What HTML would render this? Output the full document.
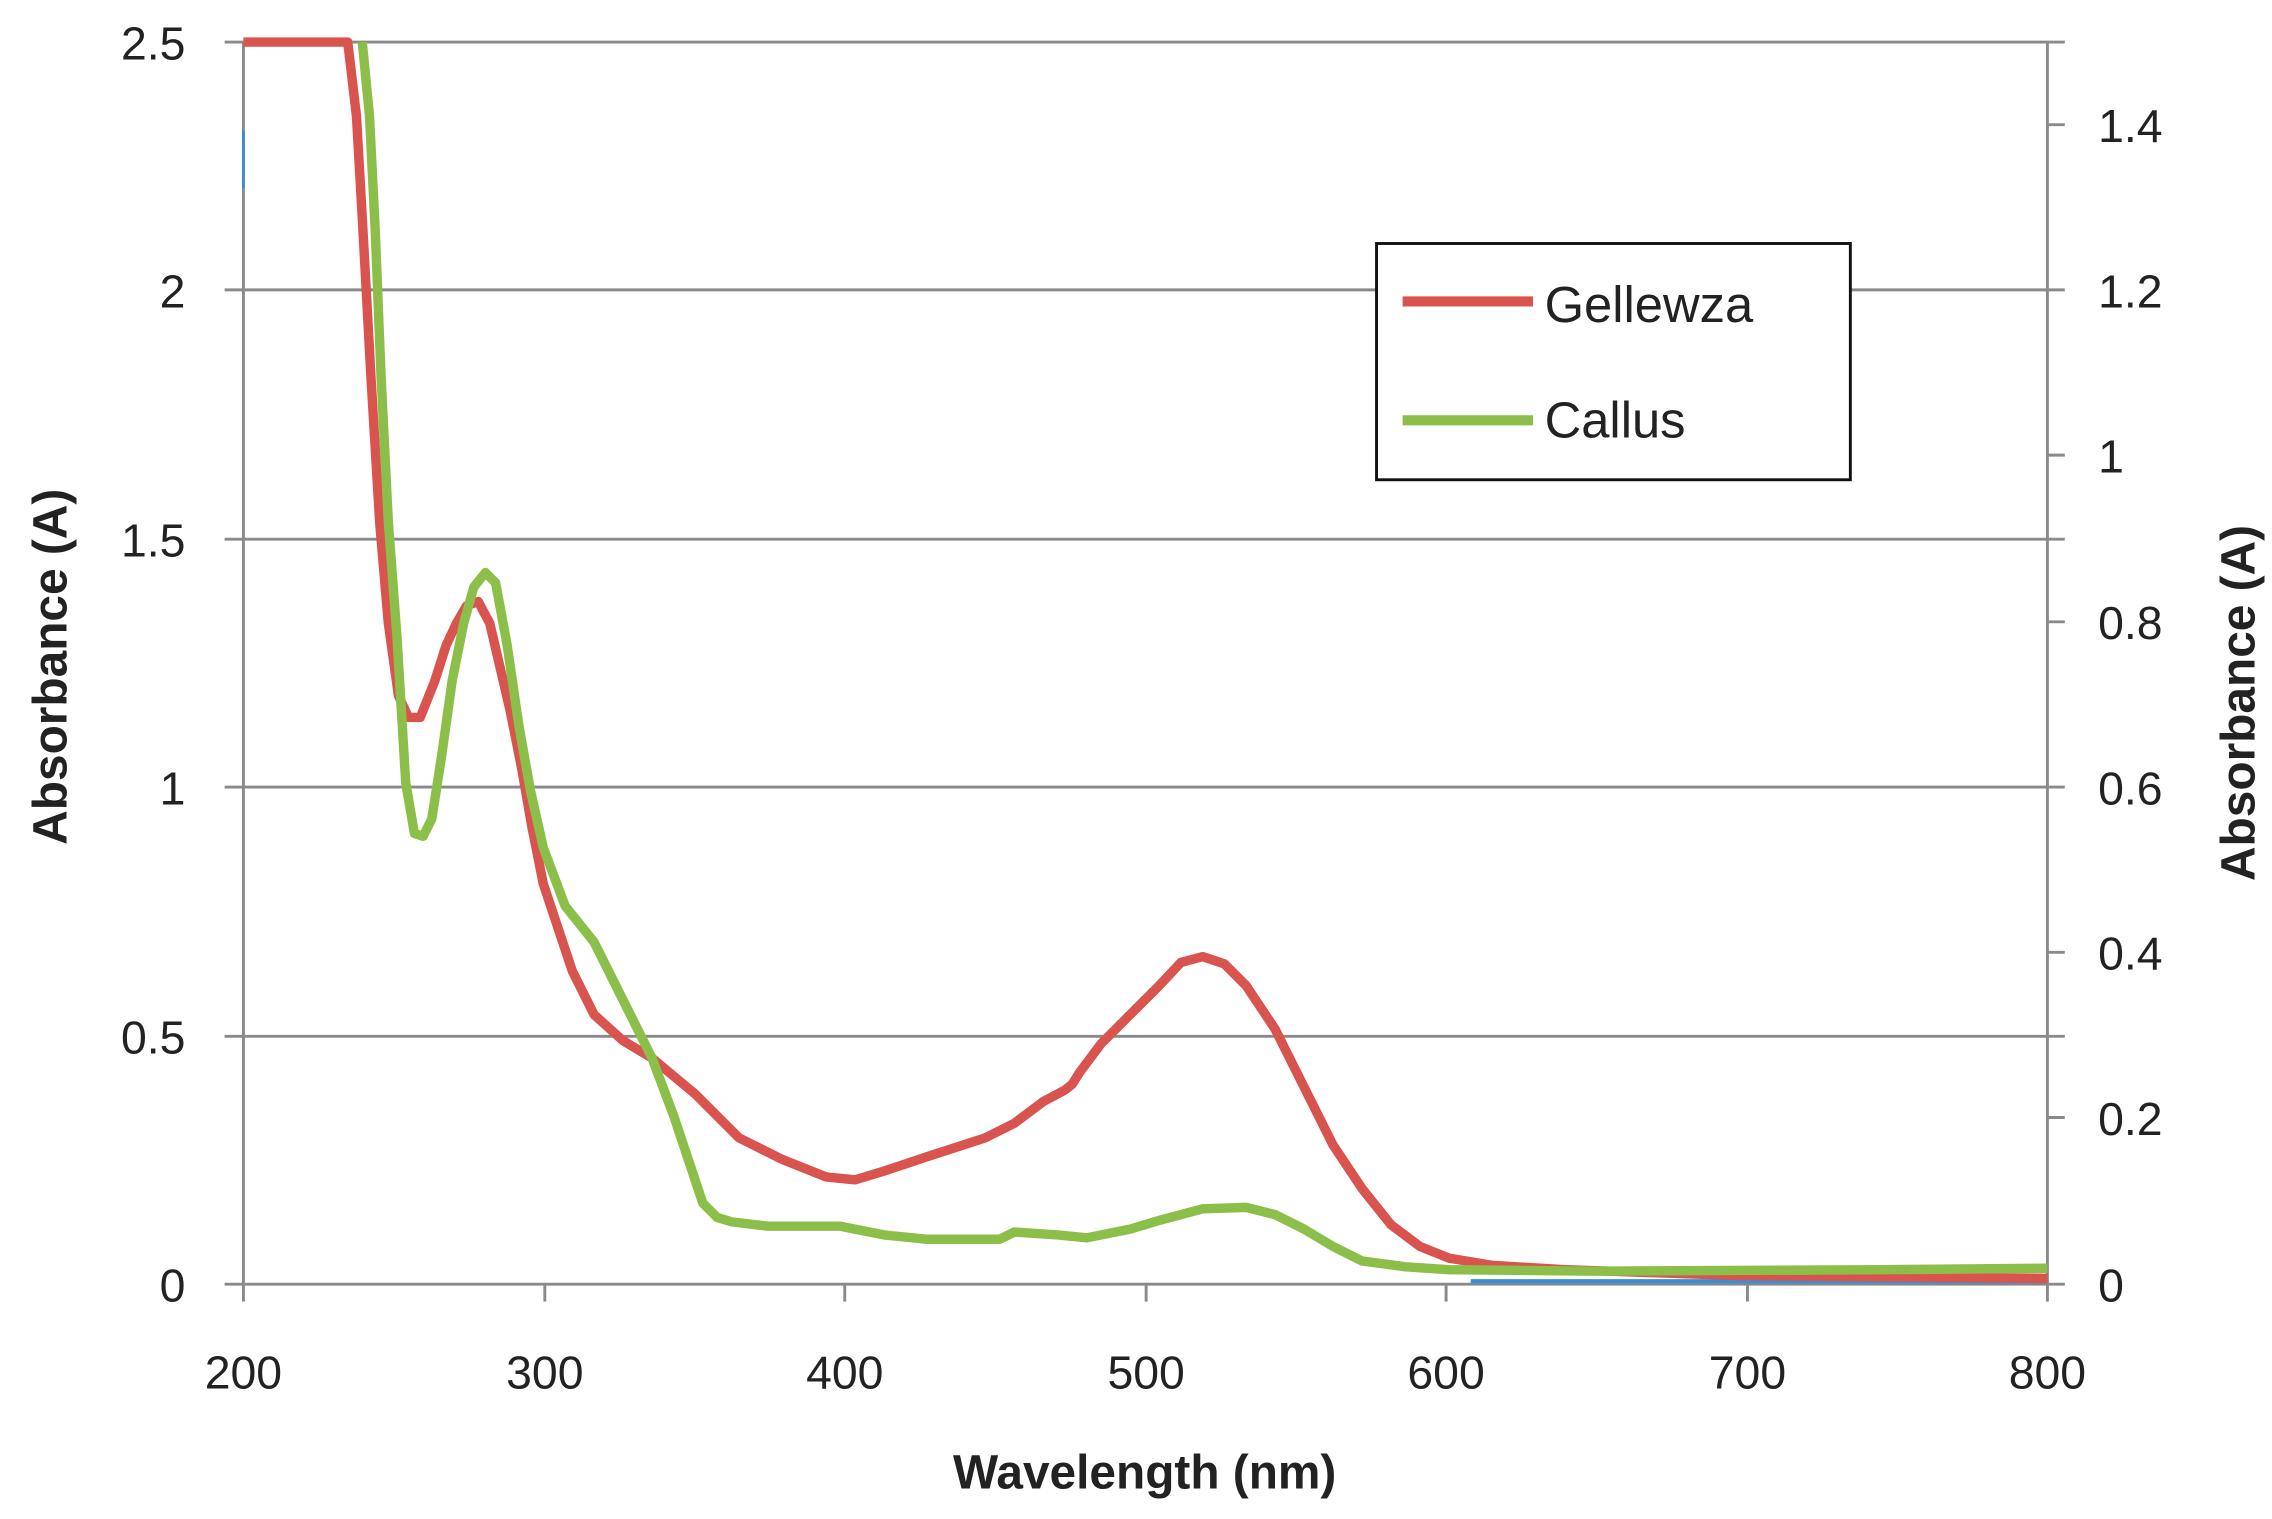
<!DOCTYPE html>
<html><head><meta charset="utf-8"><style>
html,body{margin:0;padding:0;background:#fff;}
svg{display:block;}
text{font-family:"Liberation Sans",sans-serif;fill:#222;}
</style></head><body>
<svg width="2272" height="1519" viewBox="0 0 1568 1048" preserveAspectRatio="none" xmlns="http://www.w3.org/2000/svg">
<rect width="1568" height="1048" fill="#fff"/>
<g stroke="#8a8a8a" stroke-width="2">
<line x1="155" y1="29" x2="1425" y2="29"/>
<line x1="155" y1="200" x2="1425" y2="200"/>
<line x1="155" y1="372" x2="1425" y2="372"/>
<line x1="155" y1="543" x2="1425" y2="543"/>
<line x1="155" y1="715" x2="1425" y2="715"/>
<line x1="155" y1="886" x2="1425" y2="886"/>
<line x1="168" y1="29" x2="168" y2="886"/>
<line x1="1413" y1="29" x2="1413" y2="886"/>
<line x1="1413" y1="86" x2="1425" y2="86"/>
<line x1="1413" y1="314" x2="1425" y2="314"/>
<line x1="1413" y1="429" x2="1425" y2="429"/>
<line x1="1413" y1="657" x2="1425" y2="657"/>
<line x1="1413" y1="771" x2="1425" y2="771"/>
<line x1="168" y1="886" x2="168" y2="898"/><line x1="376" y1="886" x2="376" y2="898"/><line x1="583" y1="886" x2="583" y2="898"/><line x1="791" y1="886" x2="791" y2="898"/><line x1="998" y1="886" x2="998" y2="898"/><line x1="1206" y1="886" x2="1206" y2="898"/><line x1="1413" y1="886" x2="1413" y2="898"/>
</g>
<line x1="1015" y1="884" x2="1413" y2="884" stroke="#3b8fd0" stroke-width="3"/>
<line x1="168" y1="90" x2="168" y2="130" stroke="#3b8fd0" stroke-width="2"/>
<polyline fill="none" stroke="#d9534f" stroke-width="6.5" stroke-linejoin="round" points="168,29 240,29 246,80 250,150 256,260 262,360 268,430 275,480 282,495 290,495 300,470 308,445 315,430 322,418 330,415 338,430 345,460 352,490 360,530 367,570 375,610 385,640 395,670 410,700 430,718 450,730 480,755 510,785 540,800 570,812 590,814 610,808 640,798 680,785 700,775 720,760 735,752 740,748 745,740 760,720 780,700 800,680 815,664 830,660 845,665 860,680 880,710 900,750 920,790 940,820 960,845 980,860 1000,868 1030,873 1080,876 1200,880 1413,882"/>
<polyline fill="none" stroke="#8cbf4a" stroke-width="6.5" stroke-linejoin="round" points="250,29 255,80 259,160 263,260 268,360 274,440 280,540 286,575 292,577 298,565 305,520 312,470 320,430 327,405 335,395 342,402 350,445 358,500 366,545 375,585 390,625 410,650 430,690 450,730 465,770 475,800 485,830 495,840 505,843 530,846 580,846 610,852 640,855 690,855 700,850 730,852 750,854 780,848 800,842 830,834 860,833 880,838 900,848 920,860 940,870 970,874 1000,876 1100,877 1300,876 1413,875"/>
<rect x="950" y="168" width="327" height="163" fill="#fff" stroke="#111" stroke-width="2"/>
<line x1="968" y1="208" x2="1058" y2="208" stroke="#d9534f" stroke-width="7"/>
<line x1="968" y1="290" x2="1058" y2="290" stroke="#8cbf4a" stroke-width="7"/>
<text x="1066" y="222" font-size="35">Gellewza</text>
<text x="1066" y="302" font-size="35">Callus</text>
<g font-size="32" text-anchor="end">
<text x="128" y="41">2.5</text><text x="128" y="212">2</text><text x="128" y="384">1.5</text><text x="128" y="555">1</text><text x="128" y="727">0.5</text><text x="128" y="898">0</text>
</g>
<g font-size="32" text-anchor="start">
<text x="1448" y="98">1.4</text><text x="1448" y="212">1.2</text><text x="1448" y="326">1</text><text x="1448" y="441">0.8</text><text x="1448" y="555">0.6</text><text x="1448" y="669">0.4</text><text x="1448" y="783">0.2</text><text x="1448" y="898">0</text>
</g>
<g font-size="32" text-anchor="middle">
<text x="168" y="958">200</text><text x="376" y="958">300</text><text x="583" y="958">400</text><text x="791" y="958">500</text><text x="998" y="958">600</text><text x="1206" y="958">700</text><text x="1413" y="958">800</text>
</g>
<text x="790" y="1027" font-size="33" font-weight="bold" text-anchor="middle">Wavelength (nm)</text>
<text transform="translate(46,460) rotate(-90)" font-size="33" font-weight="bold" text-anchor="middle">Absorbance (A)</text>
<text transform="translate(1556,485) rotate(-90)" font-size="33" font-weight="bold" text-anchor="middle">Absorbance (A)</text>
</svg>
</body></html>
